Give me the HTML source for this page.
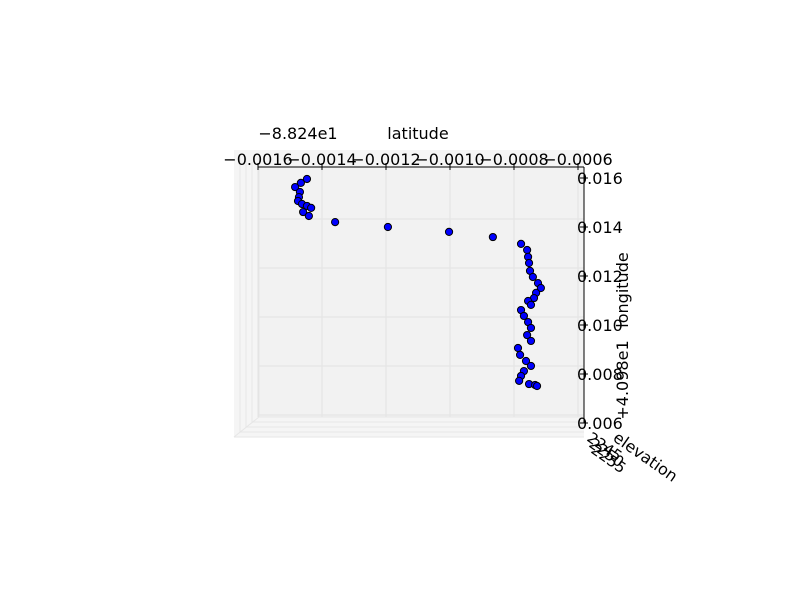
<!DOCTYPE html>
<html><head><meta charset="utf-8"><style>
html,body{margin:0;padding:0;background:#fff}
svg{display:block;font-family:"DejaVu Sans","Liberation Sans",sans-serif}
</style></head><body>
<svg id="chart" width="800" height="600" viewBox="0 0 800 600">
<g>
<rect x="234" y="150" width="350" height="287" fill="#f5f5f5"/>
<rect x="259" y="167" width="325" height="250" fill="#f2f2f2"/>
<g stroke="#e6e6e6" stroke-width="1" fill="none">
<path d="M234 437 L259 417 M240 432 V155 M246 427 V158 M252 422 V162 M234 437 H584 M240 432 H584 M246 427 H584 M252 422 H584 M259 167 V417 H584"/>
</g>
</g>
<g id="grid" stroke="#e3e3e3" stroke-width="1"></g>
<g id="axes"></g>
<g id="points"></g>
<text x="298" y="139" font-size="16" text-anchor="middle">−8.824e1</text>
<text x="418" y="139" font-size="16" text-anchor="middle">latitude</text>
<text transform="translate(628,290) rotate(-90)" font-size="16" text-anchor="middle">longitude</text>
<text transform="translate(628,380) rotate(-90)" font-size="16" text-anchor="middle">+4.098e1</text>
<g font-size="15">
<text transform="translate(586,440) rotate(35)">2245</text>
<text transform="translate(588,446) rotate(35)">2250</text>
<text transform="translate(590,452) rotate(35)">2255</text>
</g>
<text transform="translate(612,440) rotate(35)" font-size="16">elevation</text>
</svg>
<script>
const latTicks=[-0.0016,-0.0014,-0.0012,-0.0010,-0.0008,-0.0006];
const latTickLabels=["−0.0016","−0.0014","−0.0012","−0.0010","−0.0008","−0.0006"];
const lonTicks=[0.016,0.014,0.012,0.010,0.008,0.006];
const lonTickLabels=["0.016","0.014","0.012","0.010","0.008","0.006"];
const lat=[-144.7,-146.6,-148.4,-146.9,-147.2,-147.5,-146.25,-144.7,-143.4,-145.9,-144.1,-135.9,-119.4,-100.3,-86.6,-77.8,-75.9,-75.6,-75.3,-75.0,-74.1,-72.5,-71.6,-73.1,-73.75,-75.6,-74.7,-77.8,-76.9,-75.6,-74.7,-75.9,-74.7,-78.75,-78.1,-76.25,-74.7,-76.9,-77.8,-78.4,-75.3,-73.4,-72.8];
const lon=[159.6,158.0,156.3,154.3,152.2,150.6,149.4,148.6,147.8,146.1,144.5,142.0,140.0,138.0,135.9,133.1,130.6,127.8,125.3,122.1,119.6,117.1,115.1,113.1,111.0,109.8,108.2,106.1,103.7,101.2,98.8,95.9,93.5,90.6,87.8,85.3,83.3,81.2,79.2,77.2,75.9,75.5,75.1];
const NS='http://www.w3.org/2000/svg';
function xs(v){return 258+(v+0.0016)/0.0002*64;}
function ys(v){return 178+(0.016-v)/0.002*49;}
function mk(t,a,p){const e=document.createElementNS(NS,t);for(const k in a)e.setAttribute(k,a[k]);p.appendChild(e);return e;}
const grid=document.getElementById('grid'),axes=document.getElementById('axes'),pts=document.getElementById('points');
mk('line',{x1:258,y1:167,x2:584,y2:167,stroke:'#000'},axes);
mk('line',{x1:584,y1:167,x2:584,y2:423,stroke:'#000'},axes);
latTicks.forEach((v,i)=>{const x=xs(v);
 const g=mk('line',{x1:x,y1:167,x2:x,y2:417},grid);
 
 
 mk('line',{x1:x,y1:163,x2:x,y2:170,stroke:'#000'},axes);
 const t=mk('text',{x:x,y:165,'font-size':16,'text-anchor':'middle'},axes);t.textContent=latTickLabels[i];
 
 });
lonTicks.forEach((v,i)=>{const y=ys(v);
 if(i>0){const g=mk('line',{x1:259,y1:y-8,x2:584,y2:y-8},grid);
 
 }
 mk('line',{x1:580,y1:y,x2:588,y2:y,stroke:'#000'},axes);
 const t=mk('text',{x:577,y:y+6,'font-size':16},axes);t.textContent=lonTickLabels[i];
 
 });
lat.forEach((v,i)=>{const c=mk('circle',{cx:xs(v*1e-5),cy:ys(lon[i]*1e-4),r:3.6,fill:'#0000ff',stroke:'#000','stroke-width':1},pts);
 
 });
</script>
</body></html>
